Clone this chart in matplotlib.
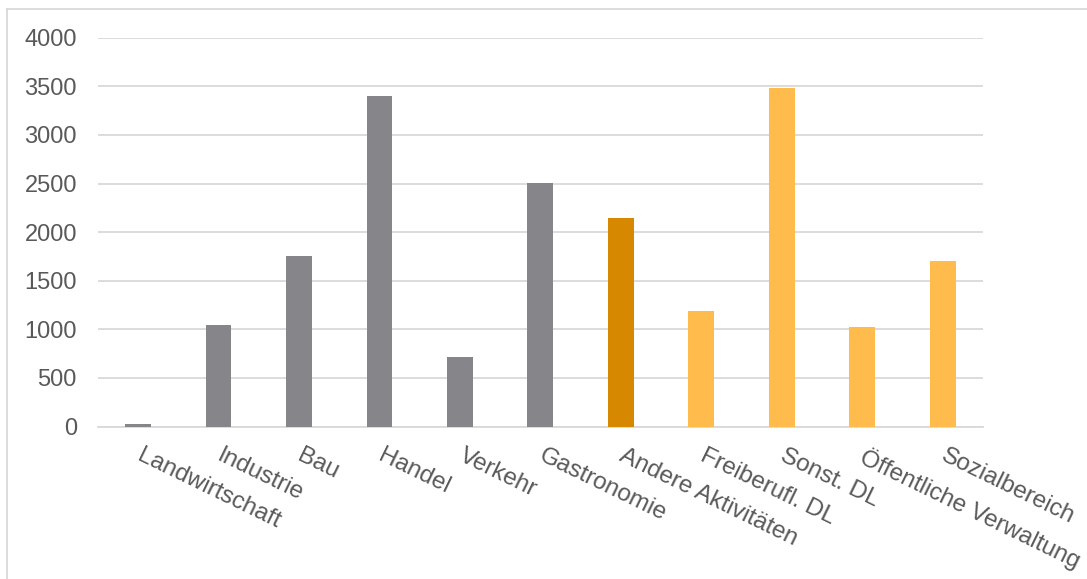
import matplotlib
matplotlib.use("Agg")
import matplotlib.pyplot as plt
from matplotlib.lines import Line2D
import matplotlib.transforms as mtransforms
import numpy as np

categories = ["Landwirtschaft", "Industrie", "Bau", "Handel", "Verkehr", "Gastronomie",
              "Andere Aktivitäten", "Freiberufl. DL", "Sonst. DL", "Öffentliche Verwaltung",
              "Sozialbereich"]
values = [25, 1040, 1750, 3400, 720, 2510, 2145, 1185, 3480, 1020, 1700]
groups = ["g", "g", "g", "g", "g", "g", "d", "l", "l", "l", "l"]
group_colors = {"g": "#868589", "d": "#D68800", "l": "#FFBC4C"}
yticks = [0, 500, 1000, 1500, 2000, 2500, 3000, 3500, 4000]

plt.rcParams['font.family'] = ['Liberation Sans', 'DejaVu Sans']

W, H = 1087, 579
fig = plt.figure(figsize=(W / 100, H / 100), dpi=100)
ax = fig.add_axes([97.75 / W, (H - 426.5) / H, (983 - 97.75) / W, 388.8 / H])

x = np.arange(len(categories))
ax.bar(x, values, width=0.32, color=[group_colors[g] for g in groups], zorder=3)

ax.set_xlim(-0.5, len(categories) - 0.5)
ax.set_ylim(0, 4000)
ax.set_yticks(yticks)
ax.set_yticklabels([str(v) for v in yticks])
ax.yaxis.grid(True, color="#D9D9D9", linewidth=1.3, zorder=0)
ax.set_axisbelow(True)
for s in ["top", "right", "left"]:
    ax.spines[s].set_visible(False)
ax.spines["bottom"].set_color("#D9D9D9")
ax.spines["bottom"].set_linewidth(1.3)
ax.tick_params(axis="y", length=0, pad=15, labelsize=17, labelcolor="#595959")
ax.tick_params(axis="x", length=0)
ax.set_xticks(x)
ax.set_xticklabels(categories, rotation=-26, ha="left", va="top",
                   rotation_mode="anchor", fontsize=17.5, color="#595959")
shift = mtransforms.ScaledTranslation(5 / 100, 0, fig.dpi_scale_trans)
for lbl in ax.get_xticklabels():
    lbl.set_y(-0.035)
    lbl.set_transform(lbl.get_transform() + shift)

# figure frame (top and left edges visible)
fig.add_artist(Line2D([7 / W, 7 / W], [0, 1 - 8.5 / H], transform=fig.transFigure,
                      color="#D9D9D9", linewidth=1.3))
fig.add_artist(Line2D([7 / W, 1], [1 - 8.5 / H, 1 - 8.5 / H], transform=fig.transFigure,
                      color="#D9D9D9", linewidth=1.3))

fig.savefig("out.png", dpi=100)
